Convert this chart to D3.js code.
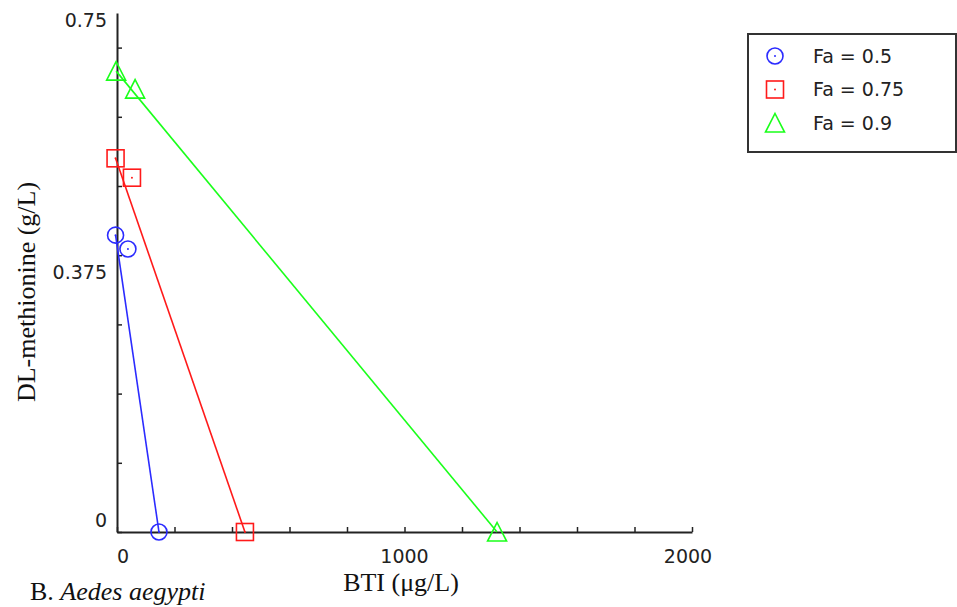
<!DOCTYPE html>
<html>
<head>
<meta charset="utf-8">
<script src="https://cdn.jsdelivr.net/npm/d3@7"></script>
<style>
  body { margin: 0; background: #fff; }
</style>
</head>
<body>
<svg id="chart" width="957" height="607"></svg>
<script>
// Series (BTI in ug/L, DL-methionine in g/L)
const seriesNames = ["Fa = 0.5", "Fa = 0.75", "Fa = 0.9"];
const seriesColors = ["#2b2bff", "#ff1a1a", "#1aff1a"];
const seriesShapes = ["circle", "square", "triangle"];
const btiValues = [
  [-5, 38, 146],
  [-5, 52, 445],
  [-3, 63, 1322]
];
const methValues = [
  [0.429, 0.409, 0],
  [0.540, 0.512, 0],
  [0.666, 0.640, 0]
];
// line joins the single-agent doses (first and last point)
const lineIdx = [0, 2];

const xTicks = d3.range(0, 2001, 200);
const yTicks = d3.range(0, 0.751, 0.1);
const xTickLabels = [0, 1000, 2000];
const yTickLabels = [0, 0.375, 0.75];

const width = 957;
const height = 607;
const margin = { top: 13, right: 265, bottom: 75, left: 117 };

const svg = d3.select("#chart");

// Scales
const xScale = d3.scaleLinear()
  .domain([0, 2000])
  .range([margin.left, width - margin.right]);

const yScale = d3.scaleLinear()
  .domain([0, 0.75])
  .range([height - margin.bottom, margin.top]);

const tickFont = "'DejaVu Sans', sans-serif";
const serifFont = "'Liberation Serif', 'DejaVu Serif', serif";

// Axes (ticks point inward)
const xAxis = d3.axisBottom(xScale).tickValues(xTicks).tickSizeInner(-5).tickSizeOuter(0).tickFormat("");
const gx = svg.append("g")
  .attr("transform", `translate(0, ${height - margin.bottom})`)
  .call(xAxis);

const yAxis = d3.axisLeft(yScale).tickValues(yTicks).tickSizeInner(-5).tickSizeOuter(0).tickFormat("");
const gy = svg.append("g")
  .attr("transform", `translate(${margin.left}, 0)`)
  .call(yAxis);

[gx, gy].forEach(g => {
  g.select(".domain").attr("stroke", "#222").attr("stroke-width", 2);
  g.selectAll(".tick line").attr("stroke", "#222").attr("stroke-width", 1.5);
});

// Tick labels (kept inside the axis span like the original)
xTickLabels.forEach(v => {
  const px = Math.min(Math.max(xScale(v), margin.left + 6), width - margin.right - 4);
  svg.append("text")
    .attr("x", px)
    .attr("y", height - margin.bottom + 31)
    .attr("text-anchor", "middle")
    .attr("font-family", tickFont)
    .attr("font-size", "19px")
    .attr("fill", "#222")
    .text(v);
});

yTickLabels.forEach(v => {
  const py = Math.min(Math.max(yScale(v), margin.top + 7), height - margin.bottom - 12);
  svg.append("text")
    .attr("x", margin.left - 10)
    .attr("y", py)
    .attr("dy", "0.36em")
    .attr("text-anchor", "end")
    .attr("font-family", tickFont)
    .attr("font-size", "19px")
    .attr("fill", "#222")
    .text(v);
});

// Marker drawing
function drawMarker(g, shape, cx, cy, color, dot) {
  if (shape === "circle") {
    g.append("circle").attr("cx", cx).attr("cy", cy).attr("r", 8)
      .attr("fill", "none").attr("stroke", color).attr("stroke-width", 1.6);
  } else if (shape === "square") {
    g.append("rect").attr("x", cx - 8.5).attr("y", cy - 8.5).attr("width", 17).attr("height", 17)
      .attr("fill", "none").attr("stroke", color).attr("stroke-width", 1.6);
  } else {
    const s = 9.5;
    g.append("path")
      .attr("d", `M${cx},${cy - s} L${cx + s},${cy + s * 0.95} L${cx - s},${cy + s * 0.95} Z`)
      .attr("fill", "none").attr("stroke", color).attr("stroke-width", 1.6);
  }
  if (dot) {
    g.append("circle").attr("cx", cx).attr("cy", cy).attr("r", 1)
      .attr("fill", color);
  }
}

// Series lines and markers
const plot = svg.append("g");
seriesNames.forEach((name, i) => {
  const pts = btiValues[i].map((x, j) => ({ x, y: methValues[i][j] }));
  const linePts = lineIdx.map(j => pts[j]);

  plot.append("path")
    .datum(linePts)
    .attr("fill", "none")
    .attr("stroke", seriesColors[i])
    .attr("stroke-width", 1.6)
    .attr("d", d3.line().x(d => xScale(d.x)).y(d => yScale(d.y)));

  pts.forEach(d => {
    drawMarker(plot, seriesShapes[i], xScale(d.x), yScale(d.y), seriesColors[i], seriesShapes[i] !== "triangle");
  });
});

// Axis titles
svg.append("text")
  .attr("x", 401)
  .attr("y", 591)
  .attr("text-anchor", "middle")
  .attr("font-family", serifFont)
  .attr("font-size", "26px")
  .attr("fill", "#111")
  .text("BTI (\u03bcg/L)");

svg.append("text")
  .attr("transform", "translate(35, 292) rotate(-90)")
  .attr("text-anchor", "middle")
  .attr("font-family", serifFont)
  .attr("font-size", "26px")
  .attr("fill", "#111")
  .text("DL-methionine (g/L)");

// Panel caption (bottom left, lifted just enough to stay inside the frame)
const cap = svg.append("text")
  .attr("x", 30)
  .attr("y", 600)
  .attr("font-family", serifFont)
  .attr("font-size", "26px")
  .attr("fill", "#111");
cap.append("tspan").text("B. ");
cap.append("tspan").attr("font-style", "italic").text("Aedes aegypti");

// Legend
const legend = svg.append("g").attr("transform", "translate(748, 34)");
legend.append("rect")
  .attr("width", 208)
  .attr("height", 118)
  .attr("fill", "#fff")
  .attr("stroke", "#333")
  .attr("stroke-width", 2);

seriesNames.forEach((name, i) => {
  const ly = 22 + i * 33.5;
  drawMarker(legend, seriesShapes[i], 27, ly, seriesColors[i], seriesShapes[i] !== "triangle");
  legend.append("text")
    .attr("x", 65)
    .attr("y", ly)
    .attr("dy", "0.36em")
    .attr("font-family", tickFont)
    .attr("font-size", "19px")
    .attr("fill", "#222")
    .text(name);
});
</script>
</body>
</html>
